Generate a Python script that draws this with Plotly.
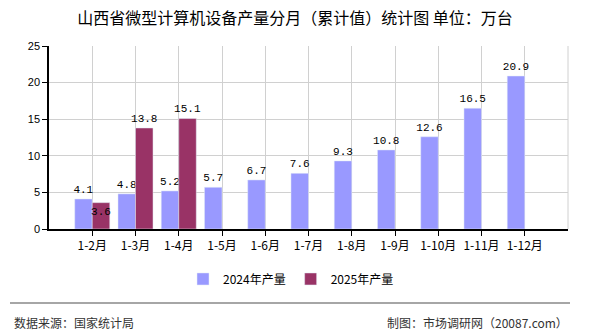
import plotly.graph_objects as go

months = ["1-2月", "1-3月", "1-4月", "1-5月", "1-6月", "1-7月", "1-8月", "1-9月", "1-10月", "1-11月", "1-12月"]
values_2024 = [4.1, 4.8, 5.2, 5.7, 6.7, 7.6, 9.3, 10.8, 12.6, 16.5, 20.9]
values_2025 = [3.6, 13.8, 15.1, None, None, None, None, None, None, None, None]
series_names = ["2024年产量", "2025年产量"]
y_ticks = [0, 5, 10, 15, 20, 25]

title_text = "山西省微型计算机设备产量分月（累计值）统计图 单位：万台"
source_text = "数据来源：国家统计局"
credit_text = "制图：市场调研网（20087.com）"

cjk = "Noto Sans CJK SC"
mono = "Liberation Mono"

fig = go.Figure()
fig.add_trace(go.Bar(
    x=months, y=values_2024, name=series_names[0],
    marker_color="#9999FF",
    text=[f"{v}" for v in values_2024],
    textposition="outside",
    constraintext="none",
    textangle=0,
    textfont=dict(family=mono, size=11, color="#000000"),
    outsidetextfont=dict(family=mono, size=11, color="#000000"),
    cliponaxis=False,
))
fig.add_trace(go.Bar(
    x=months, y=values_2025, name=series_names[1],
    marker_color="#993366",
    text=[("" if v is None else f"{v}") for v in values_2025],
    textposition=["inside"] + ["outside"] * (len(values_2025) - 1),
    insidetextanchor="end",
    constraintext="none",
    textangle=0,
    textfont=dict(family=mono, size=11, color="#000000"),
    insidetextfont=dict(family=mono, size=11, color="#000000"),
    outsidetextfont=dict(family=mono, size=11, color="#000000"),
    cliponaxis=False,
))

fig.update_layout(
    width=590, height=330,
    margin=dict(l=49, r=22, t=46, b=101),
    paper_bgcolor="#FFFFFF", plot_bgcolor="#FFFFFF",
    barmode="group", bargap=0.19, bargroupgap=0,
    font=dict(family=cjk, size=12, color="#000000"),
    title=dict(text=title_text, x=0.5, xanchor="center", y=0.945, yanchor="middle",
               font=dict(family=cjk, size=16, color="#000000")),
    legend=dict(orientation="h", x=(291 - 49) / 519, xanchor="center", y=-0.273, yanchor="middle",
                font=dict(family=cjk, size=12), itemwidth=30, traceorder="normal"),
    showlegend=True,
)
fig.update_xaxes(
    type="category", range=[-1, len(months)],
    showline=True, linecolor="#000000", linewidth=1.5,
    ticks="outside", ticklen=5, tickcolor="#000000",
    showgrid=True, gridcolor="#D0D0D0", gridwidth=1,
    tickfont=dict(family=cjk, size=12, color="#000000"),
    fixedrange=True,
)
fig.update_yaxes(
    range=[0, 25], tickvals=y_ticks,
    showline=True, linecolor="#000000", linewidth=1.5,
    ticks="outside", ticklen=5, tickcolor="#000000",
    showgrid=True, gridcolor="#D0D0D0", gridwidth=1,
    zeroline=False,
    tickfont=dict(family="Liberation Sans", size=11, color="#000000"),
    fixedrange=True,
)
# right border of plot area
fig.add_shape(type="line", xref="paper", yref="paper", x0=1, x1=1, y0=0, y1=1,
              line=dict(color="#D0D0D0", width=1))
# footer separator
fig.add_shape(type="line", xref="paper", yref="paper",
              x0=(10 - 49) / 519, x1=(570 - 49) / 519,
              y0=-(303 - 229) / 183, y1=-(303 - 229) / 183,
              line=dict(color="#888888", width=1.5))
fig.add_annotation(text=source_text, xref="paper", yref="paper",
                   x=(12 - 49) / 519, xanchor="left", y=-(322 - 229) / 183, yanchor="middle",
                   showarrow=False, font=dict(family=cjk, size=12, color="#333333"))
fig.add_annotation(text=credit_text, xref="paper", yref="paper",
                   x=(570 - 49) / 519, xanchor="right", y=-(322 - 229) / 183, yanchor="middle",
                   showarrow=False, font=dict(family=cjk, size=12, color="#333333"))

fig.write_html("out.html")
